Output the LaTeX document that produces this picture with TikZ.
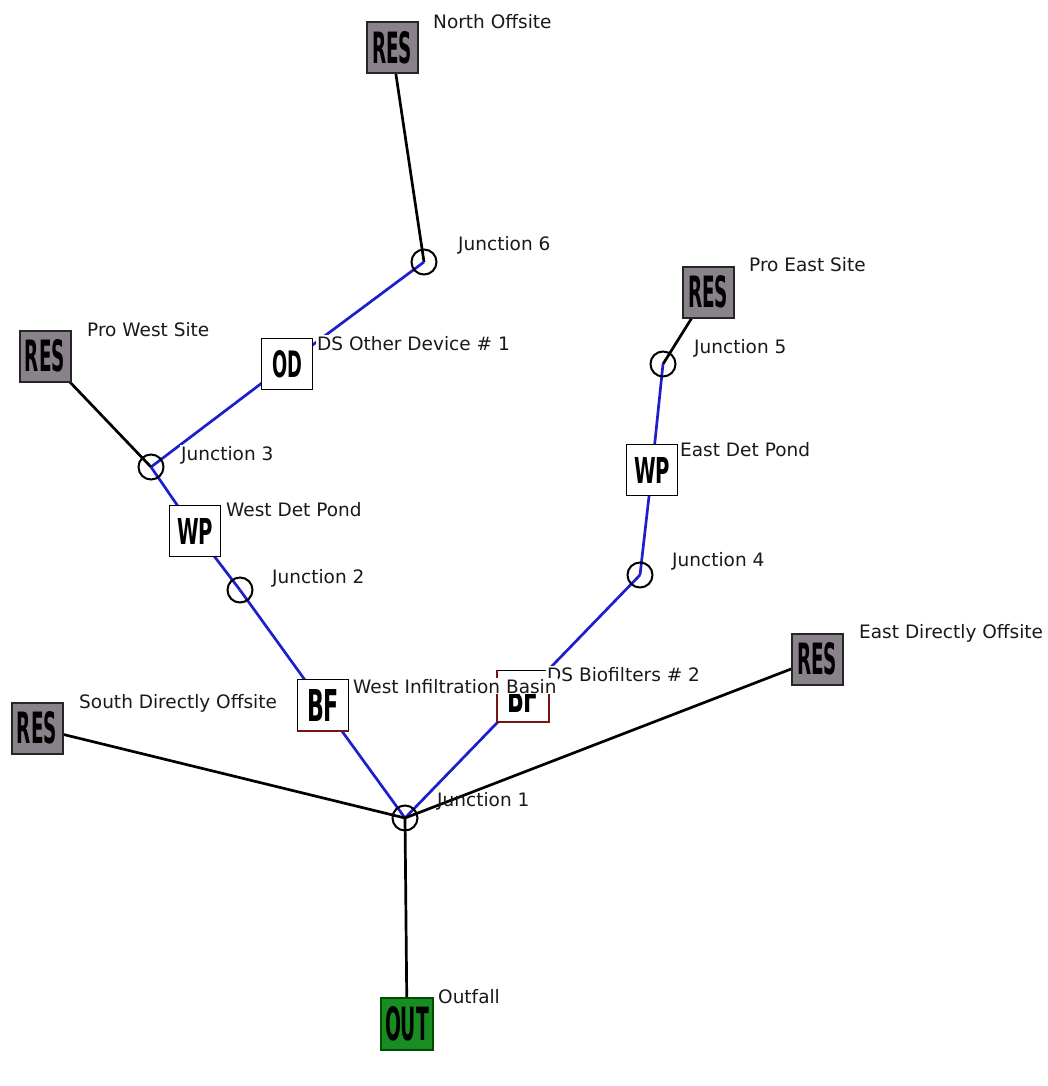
\documentclass[tikz,border=0pt]{standalone}
\usepackage{fontspec}
\usepackage{graphicx}
\setmainfont{DejaVu Sans}
\usetikzlibrary{backgrounds}
\definecolor{resgray}{RGB}{138,130,138}
\definecolor{pipeblue}{RGB}{30,30,205}
\definecolor{outgreen}{RGB}{25,140,35}
\definecolor{shadowred}{RGB}{120,20,20}
\newcommand{\boxtxt}[3]{\resizebox{#1}{#2}{\bfseries #3}}
\tikzset{
  res/.style={rectangle, draw=black!85, line width=2pt, fill=resgray, minimum size=51pt, inner sep=0pt},
  dev/.style={rectangle, draw=black, line width=1.6pt, fill=white, minimum size=51pt, inner sep=0pt},
  outbox/.style={rectangle, draw=black!70!green, line width=1.2pt, fill=outgreen, minimum size=52pt, inner sep=0pt},
  junc/.style={circle, draw=black, line width=2pt, minimum size=25pt, inner sep=0pt},
  lbl/.style={anchor=base west, inner sep=1pt, fill=white, text=black!90, font=\fontsize{18.5}{22}\selectfont},
  blackpipe/.style={draw=black, line width=2.7pt},
  bluepipe/.style={draw=pipeblue, line width=2.7pt},
}
\begin{document}
\begin{tikzpicture}[x=1pt, y=-1pt]
\useasboundingbox (0,0) rectangle (1047,1086);
% nodes
\node[res] (nres) at (392,48) {\boxtxt{40pt}{32pt}{RES}};
\node[junc] (j6) at (424,262) {};
\node[dev] (od) at (287,364) {\boxtxt{30pt}{27pt}{OD}};
\node[res] (pwres) at (45,356) {\boxtxt{40pt}{32pt}{RES}};
\node[junc] (j3) at (151,467) {};
\node[dev] (wpw) at (195,531) {\boxtxt{36pt}{26pt}{WP}};
\node[junc] (j2) at (240,590) {};
\node[dev] (bf) at (323,705) {\boxtxt{32pt}{32pt}{BF}};
\node[dev] (dsbf) at (523,696) {\boxtxt{32pt}{32pt}{BF}};
\node[junc] (j1) at (405,818) {};
\node[res] (sres) at (37,728) {\boxtxt{40pt}{32pt}{RES}};
\node[res] (eres) at (817,659) {\boxtxt{40pt}{32pt}{RES}};
\node[junc] (j4) at (640,575) {};
\node[dev] (wpe) at (652,470) {\boxtxt{36pt}{26pt}{WP}};
\node[junc] (j5) at (663,364) {};
\node[res] (peres) at (708,292) {\boxtxt{40pt}{32pt}{RES}};
\node[outbox] (out) at (407,1024) {\boxtxt{44pt}{34pt}{OUT}};
% shadow edges
\draw[shadowred, line width=2pt] (bf.south west) -- (bf.south east);
\draw[shadowred, line width=2pt] (dsbf.north west) -- (dsbf.south west) -- (dsbf.south east) -- (dsbf.north east);
% pipes
\begin{scope}[on background layer]
\draw[blackpipe] (nres.center) -- (j6.center);
\draw[bluepipe] (j6.center) -- (od.center);
\draw[bluepipe] (od.center) -- (j3.center);
\draw[blackpipe] (pwres.center) -- (j3.center);
\draw[bluepipe] (j3.center) -- (wpw.center);
\draw[bluepipe] (wpw.center) -- (j2.center);
\draw[bluepipe] (j2.center) -- (bf.center);
\draw[bluepipe] (bf.center) -- (j1.center);
\draw[blackpipe] (peres.center) -- (j5.center);
\draw[bluepipe] (j5.center) -- (wpe.center);
\draw[bluepipe] (wpe.center) -- (j4.center);
\draw[bluepipe] (j4.center) -- (dsbf.center);
\draw[bluepipe] (dsbf.center) -- (j1.center);
\draw[blackpipe] (sres.center) -- (j1.center);
\draw[blackpipe] (eres.center) -- (j1.center);
\draw[blackpipe] (j1.center) -- (out.center);
\end{scope}
% labels
\node[lbl] (lnres) at (432,28.5) {North Offsite};
\node[lbl] (lj6) at (457,250) {Junction 6};
\node[lbl] (lod) at (316,350) {DS Other Device \# 1};
\node[lbl] (lpw) at (86,336) {Pro West Site};
\node[lbl] (lj3) at (180,460) {Junction 3};
\node[lbl] (lwpw) at (225,516) {West Det Pond};
\node[lbl] (lj2) at (271,583) {Junction 2};
\node[lbl] (lj4) at (671,566) {Junction 4};
\node[lbl] (lwpe) at (679,456) {East Det Pond};
\node[lbl] (lj5) at (693,353) {Junction 5};
\node[lbl] (lpe) at (748,271) {Pro East Site};
\node[lbl] (lsres) at (78,708) {South Directly Offsite};
\node[lbl] (leres) at (858,638) {East Directly Offsite};
\node[lbl] (ldsbf) at (546,681) {DS Biofilters \# 2};
\node[lbl] (lbf) at (352,693) {West Infiltration Basin};
\node[lbl, fill=none] (lj1) at (436,806) {Junction 1};
\node[lbl] (lout) at (437,1003) {Outfall};
\end{tikzpicture}
\end{document}
